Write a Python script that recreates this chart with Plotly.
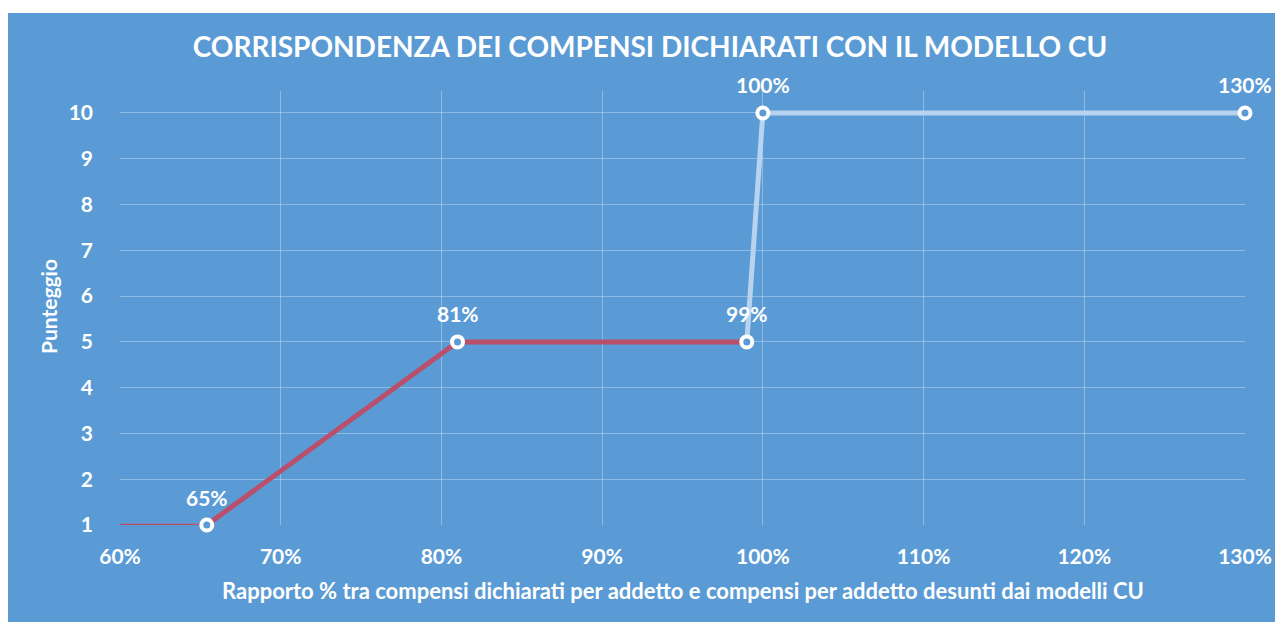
import plotly.graph_objects as go

# ---- data ----
lead_x = [0.60, 0.654]
lead_y = [1, 1]
red_x = [0.654, 0.81, 0.99]
red_y = [1, 5, 5]
blue_x = [0.99, 1.00, 1.30]
blue_y = [5, 10, 10]
point_x = [0.654, 0.81, 0.99, 1.00, 1.30]
point_y = [1, 5, 5, 10, 10]
point_labels = [f"{round(v * 100)}%" for v in point_x]
x_ticks = [0.6, 0.7, 0.8, 0.9, 1.0, 1.1, 1.2, 1.3]
y_ticks = [1, 2, 3, 4, 5, 6, 7, 8, 9, 10]

title_text = "CORRISPONDENZA DEI COMPENSI DICHIARATI CON IL MODELLO CU"
x_title = "Rapporto % tra compensi dichiarati per addetto e compensi per addetto desunti dai modelli CU"
y_title = "Punteggio"

BG = "#5B9BD5"
GRID = "rgba(255,255,255,0.32)"
RED = "#BA4F6C"
LIGHT = "#B8D3EF"
FONT = "Lato"

# page has an 8px body margin; figure occupies (8,8)-(1283,622)
OFF = 8
W, H = 1283 - OFF, 622 - OFF
ML, MR, MT, MB = 120 - OFF, 1283 - 1245, 91 - OFF, 622 - 525
PW, PH = W - ML - MR, H - MT - MB

def px_x(p):
    return (p - OFF - ML) / PW

def px_y(p):
    return (H - MB - (p - OFF)) / PH

fig = go.Figure()
fig.add_trace(go.Scatter(x=lead_x, y=lead_y, mode="lines",
                         line=dict(color=RED, width=2.5), hoverinfo="skip", showlegend=False))
fig.add_trace(go.Scatter(x=blue_x, y=blue_y, mode="lines",
                         line=dict(color=LIGHT, width=5), showlegend=False))
fig.add_trace(go.Scatter(x=red_x, y=red_y, mode="lines",
                         line=dict(color=RED, width=5), showlegend=False))
fig.add_trace(go.Scatter(x=point_x, y=point_y, mode="markers",
                         marker=dict(size=11, color=BG, line=dict(color="white", width=4)),
                         showlegend=False, cliponaxis=False))

annotations = [
    dict(text=t, x=xv, y=yv, xref="x", yref="y", showarrow=False,
         xanchor="center", yanchor="middle", yshift=28,
         font=dict(family=FONT, size=21, color="white", weight="bold"))
    for xv, yv, t in zip(point_x, point_y, point_labels)
]
annotations += [
    dict(text=x_title, xref="paper", yref="paper", x=0.5, y=px_y(590),
         xanchor="center", yanchor="middle", showarrow=False,
         font=dict(family=FONT, size=22, color="white", weight="bold")),
    dict(text=y_title, xref="paper", yref="paper", x=px_x(48), y=px_y(307),
         xanchor="center", yanchor="middle", showarrow=False, textangle=-90,
         font=dict(family=FONT, size=21, color="white", weight="bold")),
]

fig.update_layout(
    width=W, height=H,
    margin=dict(l=ML, r=MR, t=MT, b=MB),
    paper_bgcolor=BG, plot_bgcolor=BG,
    font=dict(family=FONT, color="white"),
    title=dict(text=title_text, x=(650 - OFF) / W, xref="container", xanchor="center",
               y=1 - (47 - OFF) / H, yref="container", yanchor="middle",
               font=dict(family=FONT, size=28, color="white", weight="bold")),
    xaxis=dict(range=[0.6, 1.3], tickvals=x_ticks, tickformat=".0%",
               showgrid=True, gridcolor=GRID, gridwidth=1.3, zeroline=False, showline=False,
               ticklabelstandoff=17,
               tickfont=dict(family=FONT, size=21, color="white", weight="bold")),
    yaxis=dict(range=[1, 10.48], tickvals=y_ticks,
               showgrid=True, gridcolor=GRID, gridwidth=1.3, zeroline=False, showline=False,
               ticklabelstandoff=26,
               tickfont=dict(family=FONT, size=21, color="white", weight="bold")),
    annotations=annotations,
    shapes=[
        dict(type="rect", xref="paper", yref="paper", layer="above",
             x0=px_x(0), x1=px_x(1300), y0=px_y(13), y1=px_y(0),
             fillcolor="white", line=dict(width=0)),
    ],
)

fig.write_html("out.html")
